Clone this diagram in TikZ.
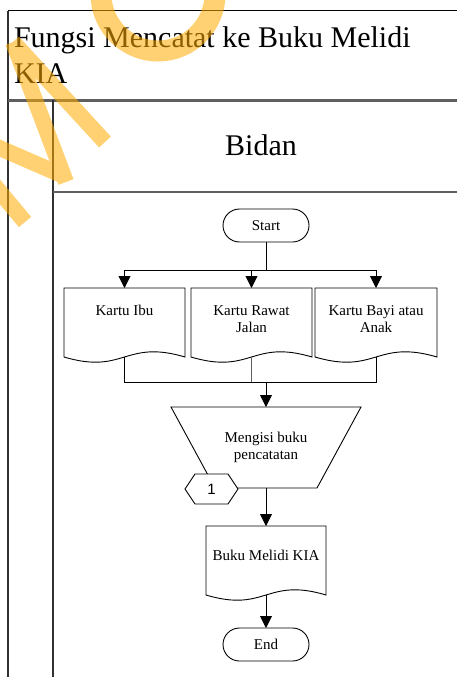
\documentclass[tikz,border=0pt]{standalone}
\usepackage{fontspec}
\setmainfont{Liberation Serif}
\newfontfamily\arialfont{Liberation Sans}
\usetikzlibrary{arrows.meta,calc}

\definecolor{framedark}{RGB}{50,50,50}
\definecolor{framemid}{RGB}{95,95,95}
\definecolor{wmorange}{RGB}{255,172,0}

% document symbol: straight top and sides, wavy bottom edge
\newcommand\docoutline[1]{%
  \draw[flow] (#1.south west) -- (#1.north west) -- (#1.north east) -- (#1.south east)
    .. controls ($(#1.south)+(0,18pt)$) and ($(#1.south)+(0,-18pt)$) .. (#1.south west) -- cycle;}

\begin{document}
\begin{tikzpicture}[x=1pt,y=-1pt,
  every node/.style={inner sep=0pt, outer sep=0pt},
  flow/.style={line width=0.9pt, black},
  arr/.style={flow, -{Triangle[width=12pt,length=12pt]}},
  txt/.style={font=\fontsize{15}{17}\selectfont, align=center},
  terminal/.style={draw, line width=0.9pt, rounded corners=16.5pt,
    minimum width=86pt, minimum height=33pt, txt},
  docbox/.style={minimum width=#1, minimum height=69pt},
  docbox/.default=121pt,
  wm/.style={draw=wmorange, line width=16pt}
]
\useasboundingbox (0,0) rectangle (457,677);

% ---- swimlane frame ----
\draw[line width=1pt] (8,11) -- (457,11);
\draw[line width=2pt, framedark] (8,11) -- (8,677);
\draw[line width=2.6pt, framemid] (8,100.5) -- (457,100.5);
\draw[line width=1.8pt, framedark] (53,100) -- (53,677);
\draw[line width=1.2pt, framemid] (53,192) -- (457,192);

\node[anchor=base west, font=\fontsize{30}{35}\selectfont] (title1) at (14,48) {Fungsi Mencatat ke Buku Melidi};
\node[anchor=base west, font=\fontsize{30}{35}\selectfont] (title2) at (14,83) {KIA};
\node[anchor=base, font=\fontsize{30}{35}\selectfont] (lane) at (261,155) {Bidan};

% ---- flowchart ----
\node[terminal] (st) at (266,225.5) {Start};

\node[docbox] (d1) at (124.5,322.5) {};
\node[docbox] (d2) at (251.5,322.5) {};
\node[docbox=122pt] (d3) at (376,322.5) {};
\docoutline{d1}
\docoutline{d2}
\docoutline{d3}
\node[txt] (d1t) at (124.5,310) {Kartu Ibu};
\node[txt] (d2t) at (251.5,319.5) {Kartu Rawat\\Jalan};
\node[txt] (d3t) at (376,319.5) {Kartu Bayi atau\\Anak};

\coordinate (fork) at (266,270);
\draw[flow] (st.south) -- (fork);
\draw[arr] (fork) -| (d1.north);
\draw[arr] (fork) -| (d2.north);
\draw[arr] (fork) -| (d3.north);

\coordinate (merge) at (266,382);
\draw[flow] (d1.south) |- (merge);
\draw[flow] (d3.south) |- (merge);
\draw[line width=0.9pt, framemid] (d2.south) -- (d2.south |- merge);

\node[txt, minimum width=190pt, minimum height=81pt] (op) at (266,447.5) {Mengisi buku\\pencatatan};
\draw[flow] (op.north west) -- (op.north east) -- ($(op.south east)+(-44pt,0)$)
  -- ($(op.south west)+(44pt,0)$) -- cycle;
\draw[arr] (merge) -- (op.north);

\node[minimum width=53pt, minimum height=30pt] (hx) at (211.5,489) {};
\draw[flow, fill=white] (hx.west) -- ($(hx.north west)+(10pt,0)$) -- ($(hx.north east)+(-10pt,0)$)
  -- (hx.east) -- ($(hx.south east)+(-10pt,0)$) -- ($(hx.south west)+(10pt,0)$) -- cycle;
\node[font=\arialfont\fontsize{15}{17}\selectfont] (hxlabel) at (hx.center) {1};

\node[docbox=120pt] (bk) at (266,560.5) {};
\docoutline{bk}
\node[txt] (bkt) at (266,555) {Buku Melidi KIA};
\draw[arr] (op.south) -- (bk.north);

\node[terminal] (en) at (266,644.5) {End};
\draw[arr] (bk.south) -- (en.north);

% ---- watermark ----
\begin{scope}[transparency group, opacity=0.55]
  \clip (0,0) rectangle (457,677);
  \draw[wm, line width=21pt] (158,-6) circle[radius=57];
  \draw[wm] (13,42) -- (105,142);
  \draw[wm] (13,42) -- (66,182);
  \draw[wm] (-12,143) -- (64,176);
  \draw[wm] (-10,180) -- (25,222);
\end{scope}
\end{tikzpicture}
\end{document}
